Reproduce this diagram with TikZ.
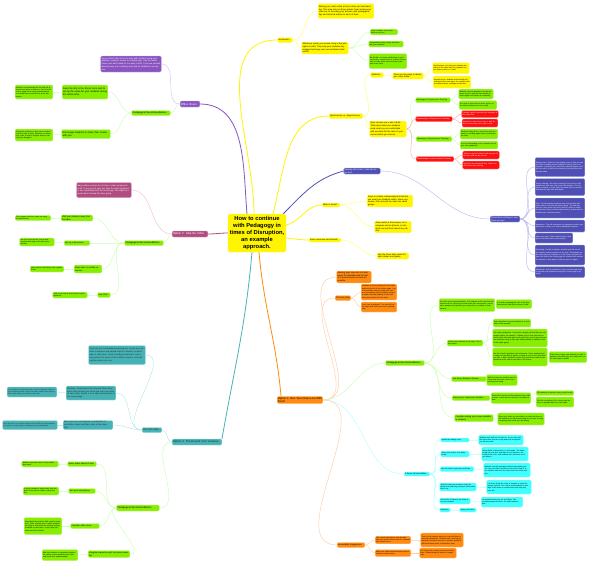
\documentclass[tikz,border=0pt]{standalone}
\usepackage{fontspec}
\setmainfont{Liberation Sans}
\usetikzlibrary{calc, backgrounds}

\definecolor{cyel}{HTML}{FFF500}
\definecolor{cgrn}{HTML}{88EE00}
\definecolor{cred}{HTML}{FF1010}
\definecolor{corg}{HTML}{FF8A10}
\definecolor{cblu}{HTML}{4F4FB5}
\definecolor{cpur}{HTML}{8A55C0}
\definecolor{cpnk}{HTML}{B04C80}
\definecolor{ctea}{HTML}{45B3B5}
\definecolor{ccyn}{HTML}{40FFFF}
\definecolor{lyel}{HTML}{FFFF70}
\definecolor{lgrn}{HTML}{CCFFB5}
\definecolor{lred}{HTML}{FFA8A8}
\definecolor{lorg}{HTML}{FFCDA8}
\definecolor{lblu}{HTML}{BDBDF0}
\definecolor{lpur}{HTML}{D8C4F0}
\definecolor{lpnk}{HTML}{F0C0D8}
\definecolor{ltea}{HTML}{B8E8E8}
\definecolor{lcyn}{HTML}{B5FFFF}

\newcommand\fleaf{\fontsize{1.8}{2.3}\selectfont}
\newcommand\ftext{\fontsize{2.1}{2.8}\selectfont}
\newcommand\fmid{\fontsize{2.4}{3.1}\selectfont}
\newcommand\ffirst{\fontsize{2.8}{3.4}\selectfont}
\newcommand\fcentre{\fontsize{5.8}{7.1}\selectfont\bfseries}

\tikzset{
  box/.style={rounded corners=1.2pt, inner sep=0.8pt, align=left, line width=0.3pt},
  sz/.style 2 args={text width=#1, minimum height=#2},
  ybox/.style={box, fill=cyel, draw=cyel!50!white},
  gbox/.style={box, fill=cgrn, draw=cgrn!50!white},
  rbox/.style={box, fill=cred, draw=cred!50!white, text=white},
  obox/.style={box, fill=corg, draw=corg!50!white},
  bbox/.style={box, fill=cblu, draw=cblu!50!white, text=white},
  pbox/.style={box, fill=cpur, draw=cpur!50!white, text=white},
  mbox/.style={box, fill=cpnk, draw=cpnk!50!white, text=white},
  tbox/.style={box, fill=ctea, draw=ctea!50!white, text=black!85},
  cbox/.style={box, fill=ccyn, draw=ccyn!50!white},
  fl/.style={font=\fleaf}, ft/.style={font=\ftext},
  fm/.style={font=\fmid}, ff/.style={font=\ffirst},
  ctrbox/.style={fill=cyel, draw=cyel!60!white, rounded corners=1.5pt,
    align=center, font=\fcentre, minimum width=58pt, minimum height=38pt, inner sep=1pt},
  link/.style={line width=0.45pt},
  branch/.style={line width=0.8pt},
}

\begin{document}
\begin{tikzpicture}[x=1pt, y=-1pt]
\useasboundingbox (0,0) rectangle (589,563);

% centre
\node[ctrbox] (ctr) at (257,233) {How to continue\\with Pedagogy in\\times of Disruption,\\an example\\approach.};

% ---------------- introduction (yellow)
\node[ybox, ft, sz={13pt}{5pt}] (intro) at (285,40) {Introduction};
\node[ybox, ft, sz={54pt}{15pt}] (introT) at (346,11) {Moving your class online at short notice can feel daunting. This map sets out three options, from running your class live to recording your lectures, with pedagogical tips and technical advice for each of them.};
\node[ybox, ft, sz={45pt}{12pt}] (introB) at (325,48) {Whichever option you choose, keep a few principles in mind. They help your students stay engaged and keep your own workload under control.};
\node[gbox, fl, sz={26pt}{5pt}] (g1) at (384,32) {Keep it simple: use as few tools as you can.};
\node[gbox, fl, sz={33pt}{6pt}] (g2) at (386,44) {Communicate early, clearly and often with your students.};
\node[gbox, fl, sz={36pt}{15pt}] (g3) at (388,61) {Be flexible: not every student has a good connection, a quiet room or a device of their own, so offer more than one way to take part in the class.};

% ---------------- synchronous vs asynchronous (yellow)
\node[ybox, ft, sz={32pt}{5pt}] (sync) at (346,116) {Synchronous vs. Asynchronous};
\node[ybox, ft, sz={11pt}{5pt}] (defn) at (377,75) {Definition};
\node[ybox, ft, sz={29pt}{6pt}] (defT) at (408,76) {There are two ways to deliver your class online:};
\node[ybox, fl, sz={35pt}{11pt}] (defA) at (451,68) {Synchronous: you and your students are online at the same time, for example in a live video session or a chat.};
\node[ybox, fl, sz={36pt}{12pt}] (defB) at (452,82) {Asynchronous: students work through the material at their own pace, for example with recorded lectures, readings and forums.};
\node[ybox, ft, sz={35pt}{16pt}] (syncT) at (388,129) {Most courses use a mix of both. Think about what your students need, what you are comfortable with and what fits the aims of your course before you choose.};
\node[gbox, fl, sz={33pt}{5pt}] (advS) at (433,100) {Advantages of Synchronous Teaching};
\node[rbox, fl, sz={35pt}{5pt}] (disS) at (434,119) {Disadvantages of Synchronous Teaching};
\node[gbox, fl, sz={34pt}{5pt}] (advA) at (434,139) {Advantages of Asynchronous Teaching};
\node[rbox, fl, sz={36pt}{5pt}] (disA) at (435,159) {Disadvantages of Asynchronous Teaching};
\node[gbox, fl, sz={33pt}{10pt}] (a1) at (476,94) {Students can ask questions and get answers at once, and the class keeps its usual rhythm and sense of community.};
\node[gbox, fl, sz={36pt}{9pt}] (a2) at (478,105) {It is easy to check who is there and to notice when students are lost or tired.};
\node[rbox, fl, sz={35pt}{7pt}] (d1) at (480,114) {It needs a good connection for everyone at the same time.};
\node[rbox, fl, sz={34pt}{8pt}] (d2) at (480,123) {Students in other time zones or with duties at home may not be able to join.};
\node[gbox, fl, sz={36pt}{10pt}] (a3) at (479,134) {Students study when it suits them and can watch a recording again when something is not clear.};
\node[gbox, fl, sz={36pt}{8pt}] (a4) at (479,145) {It is less demanding on the network and on your own equipment.};
\node[rbox, fl, sz={35pt}{8pt}] (d3) at (481,155) {Students can feel isolated and may put off the work until the last minute.};
\node[rbox, fl, sz={35pt}{8pt}] (d4) at (481,165) {Questions are answered later, which can slow down their learning.};

% ---------------- what is zoom (yellow)
\node[ybox, ft, sz={16pt}{4pt}] (whatZoom) at (331,205) {What is Zoom?};
\node[ybox, ft, sz={44pt}{10pt}] (wz1) at (390,201) {Zoom is a video conferencing tool that lets you meet your students online, share your screen, chat and split the class into small groups.};
\node[ybox, ft, sz={35pt}{9pt}] (wz2) at (393,227) {Zoom works in the browser, on a computer and on phones, so students can join from almost any device.};
\node[ybox, ft, sz={30pt}{4pt}] (zoomRes) at (325,240) {Zoom resources and tutorials};
\node[ybox, ft, sz={30pt}{6pt}] (zr1) at (393,256) {See the Zoom help centre for short videos and guides.};

% ---------------- zoom settings (blue)
\node[bbox, ft, sz={35pt}{6pt}] (zoomTips) at (362,171) {Working with Zoom: a few tips for the host};
\node[bbox, ft, sz={28pt}{6pt}] (zoomSet) at (505,219) {Check these settings in your Zoom account};
\node[bbox, fl, sz={48pt}{19pt}] (b1) at (560,167) {Waiting room: Switch on the waiting room so that you can see who is waiting and let students in one by one or all together. It protects your class from uninvited guests, and you can use it to talk to one student in private before the session starts.};
\node[bbox, fl, sz={48pt}{17pt}] (b2) at (560,187) {Screen sharing: Set screen sharing to host only so that nobody can take over your screen by mistake. You can allow a student to share when you want them to present, and take the right back afterwards.};
\node[bbox, fl, sz={48pt}{20pt}] (b3) at (560,208) {Chat: Decide whether students may chat privately with each other or only with the whole group. You can also save the chat at the end of the session, which is useful for questions that you did not have time to answer and for students who could not attend.};
\node[bbox, fl, sz={48pt}{12pt}] (b4) at (560,226) {Annotation: Turn off annotation for participants unless you want them to draw on a shared whiteboard together.};
\node[bbox, fl, sz={36pt}{10pt}] (b5) at (554,238) {Mute upon entry: Mute students when they join so that the session starts quietly.};
\node[bbox, fl, sz={48pt}{20pt}] (b6) at (560,255) {Recording: Decide in advance whether you will record the session and tell students at the start. Recordings can be saved on your computer or in the cloud, and you can share the link in the course page for students who missed the session or who want to review a part of it again.};
\node[bbox, fl, sz={48pt}{11pt}] (b7) at (560,272) {Passwords: Add a password to every meeting and share it only with your students through the course page or by email.};

% ---------------- option 1 (orange)
\node[obox, ff] (opt1) at (300,400) {Option 1: Run Your Class Live With\\Zoom};
\node[obox, ft, sz={33pt}{10pt}] (oIntro) at (354,277) {Running your class live in Zoom keeps the timetable and the feel of a normal lesson as close as possible.};
\node[obox, ft, sz={14pt}{5pt}] (oTech) at (343,298) {The Tech Side};
\node[obox, fl, sz={34pt}{16pt}] (ot1) at (379,292) {Schedule a Zoom meeting for each class and post the link in the course page. Log in ten minutes early to check your camera, microphone and the slides you want to share, and ask students to test their own set-up before the first class.};
\node[obox, fl, sz={34pt}{10pt}] (ot2) at (379,307) {Don't have a webcam? You can still run the class with audio and screen sharing only.};
\node[gbox, fm, sz={37pt}{5pt}] (oPed) at (405,363) {Pedagogical Recommendations};
\node[gbox, fl, sz={54pt}{13pt}] (c1) at (467,305) {Set clear rules and expectations. Tell students at the start how the session will run, when they should mute their microphone, how to ask a question and whether you expect them to switch on their camera.};
\node[gbox, fl, sz={34pt}{9pt}] (c1x) at (514,304) {It is worth repeating the rules in the first few sessions until they become a habit.};
\node[gbox, fl, sz={34pt}{6pt}] (c2) at (465,343) {Involve your students in the class. Don't just lecture.};
\node[gbox, fl, sz={36pt}{8pt}] (c2a) at (512,323) {Ask a question every ten minutes or so and wait for the answers.};
\node[gbox, fl, sz={53pt}{18pt}] (c2b) at (520,338) {Use polls and quizzes. Zoom has a simple poll tool that you can prepare before the session. It shows you at once who has understood the idea and who needs more help, and it gives the quieter students a way to take part without having to speak in front of the whole group.};
\node[gbox, fl, sz={53pt}{18pt}] (c2c) at (520,357) {Use the chat for questions and comments. Some students find it easier to type than to speak, so keep an eye on the chat while you talk, or ask a student to watch it for you and to read out the questions at the end of each part of the lesson.};
\node[gbox, fl, sz={36pt}{11pt}] (c2x) at (568,357) {If the class is large, ask students to send a question only when they are really stuck, so the chat stays readable.};
\node[gbox, ft, sz={33pt}{5pt}] (c3) at (469,379) {Use Zoom Breakout Rooms};
\node[gbox, fl, sz={29pt}{11pt}] (c3x) at (502,380) {Split the class into small groups for a task and visit each room to see how they are doing.};
\node[gbox, ft, sz={36pt}{5pt}] (c4) at (471,398) {Record your classroom activities};
\node[gbox, fl, sz={38pt}{11pt}] (c4x) at (511,398) {Record the session so that students who could not join, or who want to review it, can watch it later.};
\node[gbox, fl, sz={36pt}{5pt}] (c4a) at (555,393) {Tell students in advance that you will record.};
\node[gbox, fl, sz={36pt}{10pt}] (c4b) at (555,402) {Post the recording in the course page as soon as possible after the class ends.};
\node[gbox, ft, sz={37pt}{7pt}] (c5) at (474,418) {Consider making your notes available to students};
\node[gbox, fl, sz={45pt}{12pt}] (c5x) at (521,419) {Share your slides or notes before or after the class so that students can follow along and do not have to copy everything down while you are talking.};
\node[cbox, ft, sz={24pt}{4pt}] (zoomFun) at (417,474) {6 Zoom Functionalities};
\node[cbox, fl, sz={27pt}{4pt}] (z1) at (455,440) {Enable the waiting room};
\node[cbox, fl, sz={43pt}{10pt}] (z1x) at (501,440) {Students wait until you let them in, so you can start the class when you are ready and keep out guests you did not invite.};
\node[cbox, fl, sz={27pt}{6pt}] (z2) at (455,454) {Share your screen or a whiteboard};
\node[cbox, fl, sz={45pt}{14pt}] (z2x) at (505,454) {Show slides, a document or a web page. The whiteboard lets you write and draw as you would on the board in the room, and students can add notes too if you allow it.};
\node[cbox, fl, sz={32pt}{5pt}] (z3) at (457,469) {Use the chat for questions and links};
\node[cbox, fl, sz={45pt}{14pt}] (z3x) at (507,470) {Students can ask questions without interrupting you. You can send links and files to the whole class or to one student, and save the chat at the end of the session.};
\node[cbox, fl, sz={35pt}{8pt}] (z4) at (458,487) {Split the class into breakout rooms for group work and bring everyone back when time is up};
\node[cbox, fl, sz={43pt}{14pt}] (z4x) at (509,487) {Let Zoom divide the class at random or make the groups yourself. Set a timer and broadcast a message to all rooms to remind them how long they have left.};
\node[cbox, fl, sz={29pt}{6pt}] (z5) at (455,501) {Record the session to the cloud or to your computer};
\node[cbox, fl, sz={40pt}{10pt}] (z5x) at (502,502) {Let students know you are recording. The recording keeps the video, the audio and the chat.};
\node[cbox, fl, sz={9pt}{4pt}] (z6) at (445,510) {Reactions};
\node[cbox, fl, sz={15pt}{4pt}] (z6x) at (468,510) {Raise your hand};
\node[obox, ft, sz={26pt}{5pt}] (acc) at (351,545) {Accessibility Suggestions};
\node[obox, fl, sz={34pt}{7pt}] (acc1) at (393,540) {Use a good microphone and describe what you show on the screen for students who cannot see it.};
\node[obox, fl, sz={41pt}{14pt}] (acc1x) at (442,540) {Turn on live captions where you can and share a transcript afterwards. Students with a hearing impairment, and those who are not native speakers, will find it much easier to follow the class.};
\node[obox, fl, sz={34pt}{7pt}] (acc2) at (393,553) {Make your slides and documents easy to read on a small screen.};
\node[obox, fl, sz={35pt}{10pt}] (acc2x) at (438,553) {Use large fonts, strong contrast and short lines. Avoid putting key points in images only.};

% ---------------- office hours (purple)
\node[pbox, ff, sz={18pt}{6pt}] (office) at (190,104) {Office Hours};
\node[pbox, ft, sz={59pt}{16pt}] (officeT) at (131,64) {Set up virtual office hours to meet with students using your webcam, computer screen or a mobile app. Use the same Zoom room each week so it is easy to find. If you are worried about privacy, use a waiting room and let students in one by one.};
\node[gbox, fm, sz={37pt}{5pt}] (oPed2) at (151,113) {Pedagogical Recommendations};
\node[gbox, fm, sz={44pt}{14pt}] (k1) at (85,92) {Keep the link to the Zoom room and its set-up the same for your students during the whole term.};
\node[gbox, fl, sz={36pt}{14pt}] (k1x) at (34,92) {Students can bookmark the link and will always know where to find you. Post it in the course page and in every announcement, so nobody has to search for it at the last minute.};
\node[gbox, fm, sz={47pt}{9pt}] (k2) at (86,134) {Encourage students to share their screen with you.};
\node[gbox, fl, sz={36pt}{12pt}] (k2x) at (34,135) {Seeing the problem on their screen makes it much easier to help. Students can show their code, a draft or a figure and you can talk them through it.};

% ---------------- option 2 (pink)
\node[mbox, ff, sz={34pt}{6pt}] (opt2) at (190,234) {Option 2: Skip the Video};
\node[mbox, ft, sz={53pt}{15pt}] (opt2T) at (104,190) {Many online courses do not have a video component at all. If you are not sure you have the right equipment or are comfortable with the technology, this might be a good option to keep the class going.};
\node[gbox, fm, sz={37pt}{5pt}] (sPed) at (144,243) {Pedagogical Recommendations};
\node[gbox, ft, sz={30pt}{6pt}] (s1) at (77,218) {Shift your attention away from the video};
\node[gbox, fl, sz={34pt}{5pt}] (s1x) at (33,218) {Text, images and short tasks can carry the whole class.};
\node[gbox, ft, sz={24pt}{5pt}] (s2) at (77,243) {Set up a discussion};
\node[gbox, fl, sz={33pt}{8pt}] (s2x) at (37,242) {Use the course forum. Ask a clear question and reply to the first posts yourself.};
\node[gbox, ft, sz={26pt}{8pt}] (s3) at (88,269) {Share links to outside resources};
\node[gbox, fl, sz={32pt}{6pt}] (s3x) at (47,269) {Open videos and articles often explain it well.};
\node[gbox, ft, sz={11pt}{5pt}] (s4) at (104,295) {Live Chat};
\node[gbox, fl, sz={33pt}{6pt}] (s4x) at (70,295) {Hold a text chat at class time for quick questions.};

% ---------------- option 3 (teal)
\node[tbox, ff, sz={48pt}{6pt}] (opt3) at (197,442) {Option 3: Pre-Record Your Lectures};
\node[tbox, fm, sz={18pt}{5pt}] (tTech) at (152,430) {The Tech Side};
\node[tbox, ft, sz={55pt}{19pt}] (tText) at (117,355) {If you are not comfortable presenting live, record your lectures in advance and upload them for students to watch when it suits them. Short recordings work best: split a long lecture into parts of ten to fifteen minutes, and add captions where you can.};
\node[tbox, ft, sz={48pt}{14pt}] (t2) at (91,393) {Windows: PowerPoint has a Record Slide Show option that records your voice and your pen notes on each slide. Export it as a video and upload it to the course page.};
\node[tbox, fl, sz={48pt}{10pt}] (t2x) at (32,392) {If you prefer to show your face, use the webcam option in the recording toolbar. Keep the slides simple and speak a little slower than you would in the room.};
\node[tbox, ft, sz={48pt}{9pt}] (t3) at (88,425) {Mac users can use Keynote or QuickTime to record the screen and their voice at the same time.};
\node[tbox, fl, sz={53pt}{9pt}] (t3x) at (30,425) {Save the file in a common format such as MP4 so that students can play it on any device, including phones and tablets.};
\node[gbox, fm, sz={41pt}{6pt}] (tPed) at (138,508) {Pedagogical Recommendations};
\node[gbox, ft, sz={27pt}{5pt}] (r1) at (82,464) {Share slides ahead of time};
\node[gbox, fl, sz={35pt}{6pt}] (r1x) at (40,464) {Students can take notes on them while they watch.};
\node[gbox, ft, sz={25pt}{5pt}] (r2) at (82,491) {Test your microphone};
\node[gbox, fl, sz={34pt}{8pt}] (r2x) at (41,491) {A cheap headset is often better than the built-in microphone. Make a short test first.};
\node[gbox, ft, sz={27pt}{5pt}] (r3) at (85,526) {Consider office hours};
\node[gbox, fl, sz={36pt}{17pt}] (r3x) at (43,526) {Recorded lectures leave little room for questions. Offer a weekly slot in which students can drop in, ask about the material and get feedback on their work. It also helps students who feel isolated.};
\node[gbox, ft, sz={40pt}{7pt}] (r4) at (109,554) {Integrate interaction with the lecture material};
\node[gbox, fl, sz={34pt}{11pt}] (r4x) at (60,555) {Add short quizzes or questions between the videos so that students stop, think and check their understanding.};

% ---------------- connectors
\begin{scope}[on background layer]
  \fill[white] (0,0) rectangle (589,563);

  % main branches from the centre
  \draw[branch, cpur] ($(ctr.north)+(-10,0)$) to[out=95,in=0] (office.east);
  \draw[branch, cyel] ($(ctr.north)+(-3,0)$) to[out=90,in=180] (intro.west);
  \draw[branch, cyel] ($(ctr.north)+(16,0)$) to[out=75,in=180] (sync.west);
  \draw[branch, cblu] ($(ctr.north east)+(-3,0)$) to[out=45,in=195] (zoomTips.west);
  \draw[branch, cyel] ($(ctr.east)+(0,-8)$) to[out=15,in=180] (whatZoom.west);
  \draw[branch, cyel] ($(ctr.east)+(0,5)$) to[out=-5,in=180] (zoomRes.west);
  \draw[branch, cpnk] (ctr.west) to[out=180,in=0] (opt2.east);
  \draw[branch, ctea] ($(ctr.south)+(-5,0)$) to[out=-95,in=80] (opt3.north east);
  \draw[branch, corg] ($(ctr.south)+(2,0)$) to[out=-85,in=95] ($(opt1.north west)+(4,0)$);

  % right-hand side
  \foreach \a/\b/\c in {intro/introT/lyel, intro/introB/lyel, introB/g1/lgrn, introB/g2/lgrn, introB/g3/lgrn,
      sync/defn/lyel, sync/syncT/lyel, defn/defT/lyel, defT/defA/lyel, defT/defB/lyel,
      syncT/advS/lgrn, syncT/disS/lred, syncT/advA/lgrn, syncT/disA/lred,
      advS/a1/lgrn, advS/a2/lgrn, disS/d1/lred, disS/d2/lred, advA/a3/lgrn, advA/a4/lgrn, disA/d3/lred, disA/d4/lred,
      whatZoom/wz1/lyel, whatZoom/wz2/lyel, zoomRes/zr1/lyel,
      zoomTips/zoomSet/lblu, zoomSet/b1/lblu, zoomSet/b2/lblu, zoomSet/b3/lblu, zoomSet/b4/lblu,
      zoomSet/b5/lblu, zoomSet/b6/lblu, zoomSet/b7/lblu,
      opt1/oIntro/lorg, opt1/oTech/lorg, opt1/oPed/lgrn, opt1/zoomFun/lcyn, opt1/acc/lorg,
      oTech/ot1/lorg, oTech/ot2/lorg,
      oPed/c1/lgrn, oPed/c2/lgrn, oPed/c3/lgrn, oPed/c4/lgrn, oPed/c5/lgrn,
      c1/c1x/lgrn, c2/c2a/lgrn, c2/c2b/lgrn, c2/c2c/lgrn, c2c/c2x/lgrn, c3/c3x/lgrn,
      c4/c4x/lgrn, c4x/c4a/lgrn, c4x/c4b/lgrn, c5/c5x/lgrn,
      zoomFun/z1/lcyn, zoomFun/z2/lcyn, zoomFun/z3/lcyn, zoomFun/z4/lcyn, zoomFun/z5/lcyn, zoomFun/z6/lcyn,
      z1/z1x/lcyn, z2/z2x/lcyn, z3/z3x/lcyn, z4/z4x/lcyn, z5/z5x/lcyn, z6/z6x/lcyn,
      acc/acc1/lorg, acc/acc2/lorg, acc1/acc1x/lorg, acc2/acc2x/lorg}
    \draw[link, \c] (\a.east) to[out=0,in=180] (\b.west);

  % left-hand side
  \foreach \a/\b/\c in {office/officeT/lpur, office/oPed2/lgrn, oPed2/k1/lgrn, oPed2/k2/lgrn, k1/k1x/lgrn, k2/k2x/lgrn,
      opt2/opt2T/lpnk, opt2/sPed/lgrn, sPed/s1/lgrn, sPed/s2/lgrn, sPed/s3/lgrn, sPed/s4/lgrn,
      s1/s1x/lgrn, s2/s2x/lgrn, s3/s3x/lgrn, s4/s4x/lgrn,
      opt3/tTech/ltea, opt3/tPed/lgrn, tTech/tText/ltea, tTech/t2/ltea, tTech/t3/ltea, t2/t2x/ltea, t3/t3x/ltea,
      tPed/r1/lgrn, tPed/r2/lgrn, tPed/r3/lgrn, tPed/r4/lgrn,
      r1/r1x/lgrn, r2/r2x/lgrn, r3/r3x/lgrn, r4/r4x/lgrn}
    \draw[link, \c] (\a.west) to[out=180,in=0] (\b.east);
\end{scope}

\end{tikzpicture}
\end{document}
